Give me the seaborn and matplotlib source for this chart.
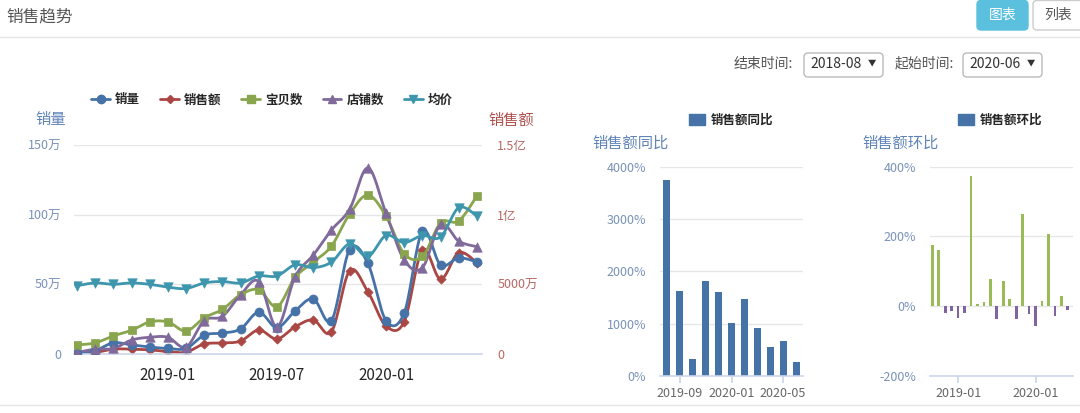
import numpy as np
import pandas as pd
import matplotlib.pyplot as plt
import seaborn as sns
from matplotlib.lines import Line2D
from matplotlib.patches import FancyBboxPatch, Patch
from matplotlib.transforms import IdentityTransform

# ---------------- 数据 ----------------
months = [p.strftime('%Y-%m') for p in pd.period_range('2018-08', '2020-06', freq='M')]

sales_qty = [1, 2.5, 8, 6.5, 5, 4, 4, 13.5, 15, 18, 30, 19, 31,
             39.5, 24, 75, 65, 24, 29.5, 88, 64, 69, 66]              # 销量(万)
sales_amt = [100, 120, 350, 350, 300, 170, 130, 720, 790, 930, 1720, 1080, 1960,
             2440, 1600, 5980, 4470, 2010, 2320, 7460, 5380, 7270, 6550]  # 销售额(万)
items = [6.5, 8, 13, 17, 23, 23, 16.5, 26, 32, 42.5, 46, 34, 55,
         66, 77.5, 100.5, 114, 99, 72, 70, 94, 95.5, 113.5]           # 宝贝数
shops = [1, 3.5, 4, 10, 12, 12, 5, 24, 27, 42.5, 52, 19.5, 55.5,
         71, 89, 104, 133.5, 101, 67.5, 62, 93, 81, 77]               # 店铺数
avg_price = [49, 51, 50, 51, 50, 48, 47, 51, 52, 51, 56, 56, 64,
             62, 66, 79, 70, 85, 80, 85, 84, 105, 99]                 # 均价

yoy_months = months[12:]
yoy = [3750, 1630, 320, 1820, 1600, 1020, 1480, 920, 560, 660, 260]   # 销售额同比(%)

mom_months = months[1:]
mom = [176, 161, -18, -15, -33, -18, 374, 6, 12, 79, -36, 73, 20,
       -36, 264, -23, -58, 15, 207, -27, 30, -12]                     # 销售额环比(%)

# ---------------- 样式 ----------------
sns.set_theme(style='white')
plt.rcParams['font.family'] = ['Noto Sans CJK SC', 'DejaVu Sans']
plt.rcParams['axes.unicode_minus'] = False

W, H = 1080, 413
fig = plt.figure(figsize=(W / 100, H / 100), dpi=100)
fig.patch.set_facecolor('white')


def box(l, t, r, b):
    return [l / W, 1 - b / H, (r - l) / W, (b - t) / H]


def smooth(y, s=0.17, n=16):
    # echarts 风格的平滑曲线(贝塞尔)
    y = np.asarray(y, float)
    x = np.arange(len(y), dtype=float)
    xs, ys = [], []
    t = np.linspace(0, 1, n, endpoint=False)
    for i in range(len(y) - 1):
        i0, i3 = max(i - 1, 0), min(i + 2, len(y) - 1)
        p0 = np.array([x[i], y[i]])
        p3 = np.array([x[i + 1], y[i + 1]])
        p1 = p0 + (p3 - np.array([x[i0], y[i0]])) * s
        p2 = p3 - (np.array([x[i3], y[i3]]) - p0) * s
        b = ((1 - t) ** 3)[:, None] * p0 + (3 * (1 - t) ** 2 * t)[:, None] * p1 \
            + (3 * (1 - t) * t ** 2)[:, None] * p2 + (t ** 3)[:, None] * p3
        xs.extend(b[:, 0]); ys.extend(b[:, 1])
    xs.append(x[-1]); ys.append(y[-1])
    return pd.DataFrame({'x': xs, 'y': ys})


AXIS_C = '#ccd6eb'
GRID_C = '#e6e6e6'
BLUE_T = '#5f84b8'
RED_T = '#b0504d'

series = [
    ('销量', sales_qty, '#4572A7', 'o', 42, 'left'),
    ('销售额', sales_amt, '#AA4643', 'D', 22, 'right'),
    ('宝贝数', items, '#89A54E', 's', 40, 'left'),
    ('店铺数', shops, '#80699B', '^', 46, 'left'),
    ('均价', avg_price, '#3D96AE', 'v', 46, 'left'),
]

# ---------------- 左图：趋势折线 ----------------
axr = fig.add_axes(box(74, 145, 482, 354))
ax = axr.twinx()
axr.set_zorder(1)
ax.set_zorder(2)
ax.patch.set_visible(False)

x = np.arange(len(months))
for name, vals, c, m, s, side in series:
    a = axr if side == 'right' else ax
    sm = smooth(vals)
    sns.lineplot(data=sm, x='x', y='y', color=c, lw=2, sort=False,
                 estimator=None, ax=a)
    sns.scatterplot(x=x, y=vals, marker=m, s=s, color=c, edgecolor=c,
                    linewidth=0.5, ax=a, zorder=5)

for a in (ax, axr):
    a.set_xlim(-0.165, 22.28)
    a.set_xlabel('')
    a.set_ylabel('')
    for sp in a.spines.values():
        sp.set_visible(False)

ax.set_ylim(0, 150)
axr.set_ylim(0, 15000)
ax.yaxis.tick_left()
axr.yaxis.tick_right()
ax.set_yticks([0, 50, 100, 150], ['0', '50万', '100万', '150万'])
axr.set_yticks([0, 5000, 10000, 15000], ['0', '5000万', '1亿', '1.5亿'])
ax.tick_params(axis='y', left=False, right=False, labelleft=True, labelright=False,
               labelsize=9, labelcolor='#7892b9', pad=3)
axr.tick_params(axis='y', left=False, right=False, labelleft=False, labelright=True,
                labelsize=9, labelcolor='#b86865', pad=5)
axr.yaxis.grid(True, color=GRID_C, lw=1)
axr.set_xticks([])
ax.spines['bottom'].set_visible(True)
ax.spines['bottom'].set_color(AXIS_C)
ax.spines['bottom'].set_linewidth(1.2)
ax.set_xticks([5, 11, 17], [months[5], months[11], months[17]])
ax.tick_params(axis='x', bottom=True, length=5, color=AXIS_C, labelsize=9,
               labelcolor='#666666', pad=3)

fig.text(35 / W, 1 - 120 / H, '销量', color=BLUE_T, fontsize=11, va='center')
fig.text(488 / W, 1 - 120 / H, '销售额', color=RED_T, fontsize=11, va='center')

handles = [Line2D([0], [0], color=c, lw=2, marker=m, markersize=6 if m != 'D' else 4.5,
                  markeredgecolor=c) for _, _, c, m, _, _ in series]
fig.legend(handles, [s[0] for s in series], loc='center', bbox_to_anchor=(272 / W, 1 - 100 / H),
           ncol=5, frameon=False, handlelength=1.5, handletextpad=0.4, columnspacing=1.6,
           prop={'weight': 'bold', 'size': 9})

# ---------------- 中图：销售额同比 ----------------
axm = fig.add_axes(box(660, 166.7, 803, 376))
sns.barplot(x=yoy_months, y=yoy, color='#4572A7', width=0.54, saturation=1,
            linewidth=0, edgecolor='none', ax=axm)
axm.set_xlim(-0.54, 10.54)
axm.set_ylim(0, 4000)
axm.set_yticks([0, 1000, 2000, 3000, 4000], ['0%', '1000%', '2000%', '3000%', '4000%'])
axm.set_xticks([1, 5, 9], [yoy_months[1], yoy_months[5], yoy_months[9]])

# ---------------- 右图：销售额环比 ----------------
axh = fig.add_axes(box(930, 166.7, 1073, 376))
mom_colors = ['#9BBB59' if v >= 0 else '#8064A2' for v in mom]
sns.barplot(x=mom_months, y=mom, hue=mom_months, palette=mom_colors, legend=False,
            width=0.42, saturation=1, linewidth=0, edgecolor='none', ax=axh)
axh.set_xlim(-0.36, 21.8)
axh.set_ylim(-200, 400)
axh.set_yticks([-200, 0, 200, 400], ['-200%', '0%', '200%', '400%'])
axh.set_xticks([4, 16], [mom_months[4], mom_months[16]])

for a in (axm, axh):
    a.set_xlabel('')
    a.set_ylabel('')
    for sp in a.spines.values():
        sp.set_visible(False)
    a.spines['bottom'].set_visible(True)
    a.spines['bottom'].set_color(AXIS_C)
    a.spines['bottom'].set_linewidth(1.2)
    a.yaxis.grid(True, color=GRID_C, lw=1)
    a.set_axisbelow(True)
    a.tick_params(axis='y', left=False, labelsize=9, labelcolor='#7892b9', pad=4)
    a.tick_params(axis='x', bottom=True, length=5, color=AXIS_C, labelsize=9,
                  labelcolor='#666666', pad=3)

fig.text(592 / W, 1 - 143 / H, '销售额同比', color=BLUE_T, fontsize=11, va='center')
fig.text(862 / W, 1 - 143 / H, '销售额环比', color=BLUE_T, fontsize=11, va='center')
for label, cx in (('销售额同比', 731), ('销售额环比', 1000)):
    fig.legend([Patch(color='#4572A7')], [label], loc='center', bbox_to_anchor=(cx / W, 1 - 120 / H),
               frameon=False, handlelength=1.3, handleheight=1.0, handletextpad=0.5,
               prop={'weight': 'bold', 'size': 9})

# ---------------- 页面元素 ----------------
fig.text(6 / W, 1 - 17 / H, '销售趋势', fontsize=12, color='#555555', va='center')
fig.add_artist(Line2D([0, 1], [1 - 37 / H] * 2, color='#e5e5e5', lw=1))
fig.add_artist(Line2D([0, 1], [1 - 405 / H] * 2, color='#e5e5e5', lw=1))


def button(l, t, r, b, fc, ec):
    fig.add_artist(FancyBboxPatch((l, H - b), r - l, b - t, boxstyle='round,pad=0,rounding_size=4',
                                  transform=IdentityTransform(), facecolor=fc, edgecolor=ec, lw=1))


button(977, 0.5, 1028, 30, '#5bc0de', '#5bc0de')
fig.text(1002.5 / W, 1 - 15 / H, '图表', color='white', fontsize=10, ha='center', va='center')
button(1033, 0.5, 1090, 30, 'white', '#cccccc')
fig.text(1058 / W, 1 - 15 / H, '列表', color='#555555', fontsize=10, ha='center', va='center')

fig.text(793 / W, 1 - 64 / H, '结束时间:', color='#555555', fontsize=10, ha='right', va='center')
button(804, 53, 883, 77, 'white', '#bbbbbb')
fig.text(810 / W, 1 - 64 / H, '2018-08', color='#333333', fontsize=10, va='center')
fig.text(872 / W, 1 - 63 / H, '▼', color='#333333', fontsize=6, ha='center', va='center')
fig.text(954 / W, 1 - 64 / H, '起始时间:', color='#555555', fontsize=10, ha='right', va='center')
button(963, 53, 1042, 77, 'white', '#bbbbbb')
fig.text(969 / W, 1 - 64 / H, '2020-06', color='#333333', fontsize=10, va='center')
fig.text(1031 / W, 1 - 63 / H, '▼', color='#333333', fontsize=6, ha='center', va='center')

fig.savefig('out.png', dpi=100, facecolor='white')
